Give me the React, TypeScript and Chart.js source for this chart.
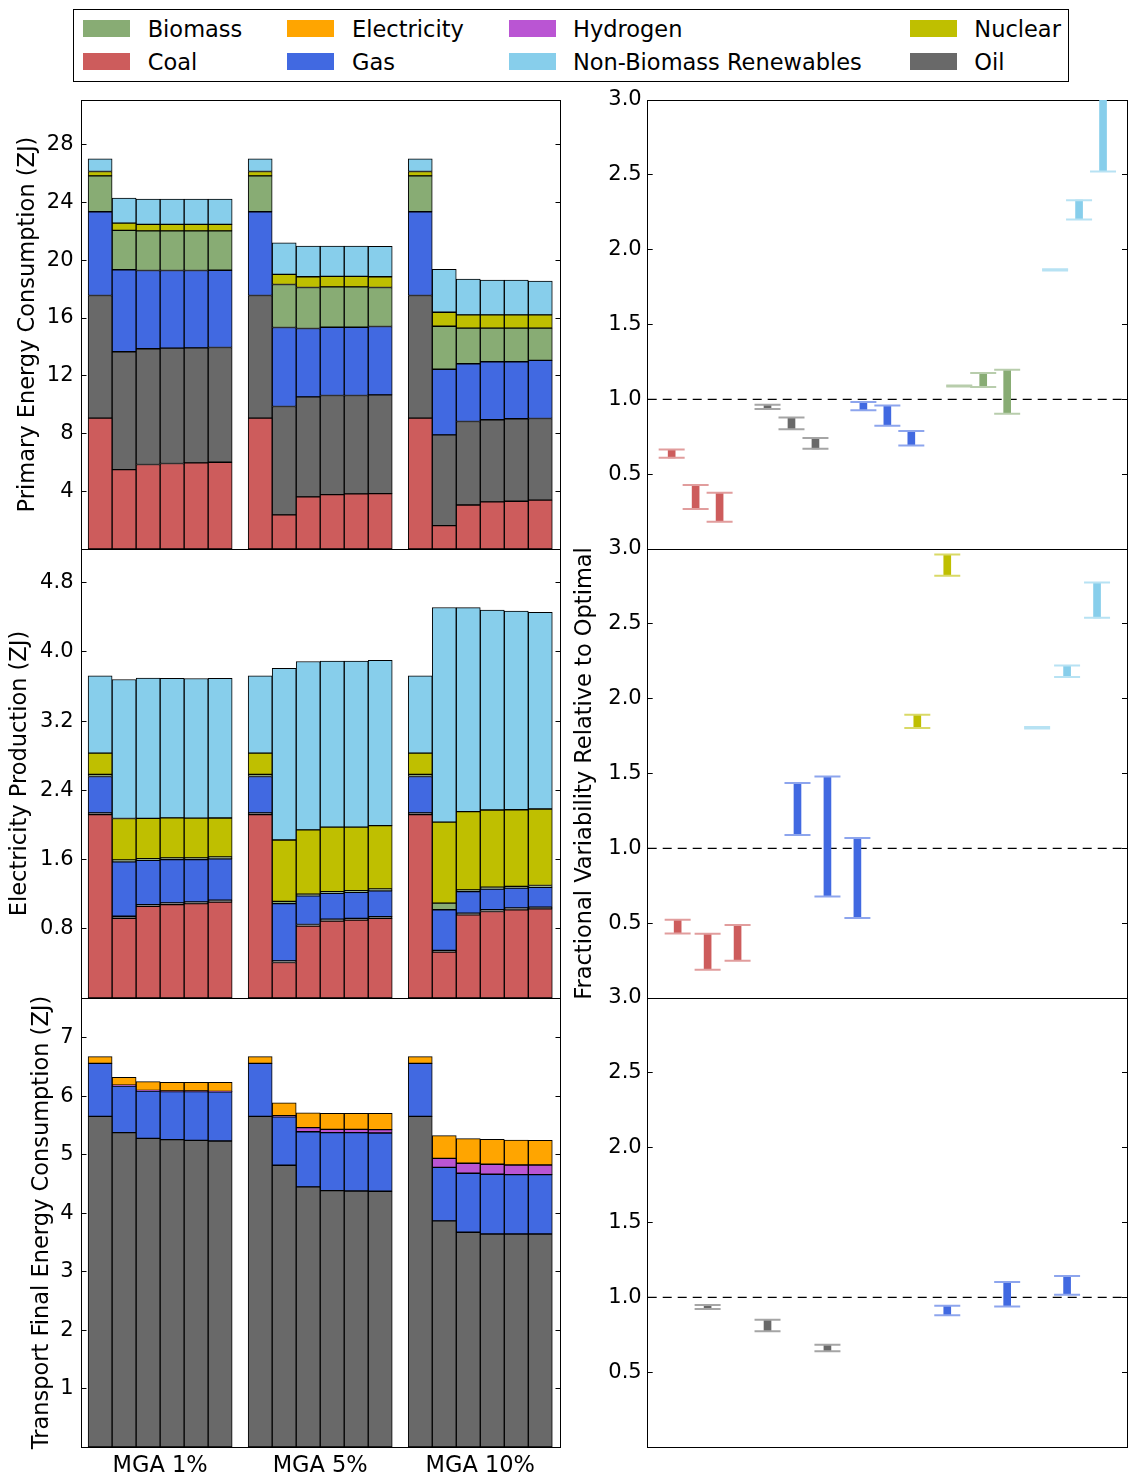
import React, { useEffect, useRef } from 'react';
import { Chart, registerables } from 'chart.js';

Chart.register(...registerables);

const FONT = 'DejaVu Sans';

// ---------- categories ----------
const MGA_LEVELS = ['MGA 1%', 'MGA 5%', 'MGA 10%'];
const BARS_PER_GROUP = 6;

const LEGEND_ITEMS = [
  'Biomass', 'Coal', 'Electricity', 'Gas',
  'Hydrogen', 'Non-Biomass Renewables', 'Nuclear', 'Oil',
];

const COLORS: Record<string, string> = {
  Biomass: '#88ac74',
  Coal: '#cd5c5c',
  Electricity: '#ffa500',
  Gas: '#4169e1',
  Hydrogen: '#ba55d3',
  'Non-Biomass Renewables': '#87ceeb',
  Nuclear: '#bfbf00',
  Oil: '#696969',
};

// ---------- Primary energy consumption (ZJ), 3 groups x 6 bars ----------
const primaryCoal = [9.06, 5.50, 5.85, 5.92, 5.97, 6.01, 9.06, 2.36, 3.61, 3.77, 3.82, 3.84, 9.06, 1.62, 3.05, 3.26, 3.31, 3.38];
const primaryOil = [8.50, 8.16, 8.02, 7.99, 7.96, 7.95, 8.50, 7.51, 6.93, 6.86, 6.81, 6.84, 8.50, 6.29, 5.78, 5.69, 5.71, 5.66];
const primaryGas = [5.80, 5.68, 5.42, 5.38, 5.36, 5.35, 5.80, 5.47, 4.73, 4.73, 4.73, 4.73, 5.80, 4.54, 4.00, 4.02, 3.95, 4.02];
const primaryBiomass = [2.49, 2.73, 2.75, 2.75, 2.75, 2.73, 2.49, 2.98, 2.84, 2.80, 2.80, 2.70, 2.49, 2.98, 2.47, 2.33, 2.33, 2.24];
const primaryNuclear = [0.30, 0.50, 0.44, 0.44, 0.44, 0.44, 0.30, 0.70, 0.75, 0.72, 0.72, 0.75, 0.30, 0.97, 0.92, 0.92, 0.92, 0.92];
const primaryRenew = [0.88, 1.73, 1.75, 1.75, 1.75, 1.75, 0.88, 2.19, 2.12, 2.10, 2.10, 2.10, 0.88, 2.98, 2.47, 2.40, 2.40, 2.33];
const primaryTicks = [4, 8, 12, 16, 20, 24, 28];
const primaryMax = 31.1;

// ---------- Electricity production (ZJ) ----------
const elecCoal = [2.12, 0.92, 1.06, 1.08, 1.09, 1.11, 2.12, 0.41, 0.83, 0.89, 0.90, 0.92, 2.12, 0.53, 0.96, 1.00, 1.02, 1.03];
const elecOil = [0.02, 0.025, 0.02, 0.02, 0.02, 0.02, 0.02, 0.02, 0.02, 0.02, 0.02, 0.02, 0.02, 0.02, 0.02, 0.02, 0.02, 0.02];
const elecGas = [0.42, 0.63, 0.51, 0.50, 0.49, 0.48, 0.42, 0.66, 0.33, 0.30, 0.30, 0.30, 0.42, 0.47, 0.25, 0.24, 0.23, 0.23];
const elecBiomass = [0.025, 0.02, 0.02, 0.02, 0.02, 0.02, 0.025, 0.027, 0.02, 0.02, 0.02, 0.02, 0.025, 0.077, 0.02, 0.02, 0.02, 0.02];
const elecNuclear = [0.245, 0.48, 0.466, 0.462, 0.459, 0.451, 0.245, 0.709, 0.743, 0.745, 0.736, 0.732, 0.245, 0.936, 0.905, 0.893, 0.886, 0.885];
const elecRenew = [0.894, 1.607, 1.622, 1.614, 1.614, 1.614, 0.894, 1.984, 1.947, 1.919, 1.919, 1.912, 0.894, 2.481, 2.358, 2.312, 2.297, 2.274];
const elecTicks = [0.8, 1.6, 2.4, 3.2, 4.0, 4.8];
const elecMax = 5.19;

// ---------- Transport final energy consumption (ZJ) ----------
const transOil = [5.656, 5.376, 5.280, 5.257, 5.246, 5.234, 5.656, 4.819, 4.448, 4.385, 4.379, 4.374, 5.656, 3.867, 3.673, 3.644, 3.644, 3.644];
const transGas = [0.906, 0.798, 0.81, 0.822, 0.833, 0.839, 0.906, 0.828, 0.945, 0.991, 0.997, 0.997, 0.906, 0.917, 1.009, 1.021, 1.015, 1.015];
const transHydrogen = [0, 0.015, 0.01, 0.01, 0.01, 0.01, 0, 0.02, 0.069, 0.058, 0.058, 0.057, 0, 0.154, 0.171, 0.171, 0.165, 0.165];
const transElectricity = [0.114, 0.134, 0.15, 0.149, 0.149, 0.155, 0.114, 0.22, 0.256, 0.273, 0.273, 0.279, 0.114, 0.387, 0.421, 0.427, 0.427, 0.422];
const transTicks = [1, 2, 3, 4, 5, 6, 7];
const transMax = 7.68;

// ---------- Fractional variability relative to optimal (low / high per MGA level) ----------
const varTicks = [0.5, 1.0, 1.5, 2.0, 2.5, 3.0];

const varPrimaryCoalLow = [0.609, 0.267, 0.182];
const varPrimaryCoalHigh = [0.665, 0.427, 0.376];
const varPrimaryOilLow = [0.936, 0.80, 0.669];
const varPrimaryOilHigh = [0.964, 0.878, 0.742];
const varPrimaryGasLow = [0.927, 0.824, 0.691];
const varPrimaryGasHigh = [0.982, 0.958, 0.789];
const varPrimaryBiomassLow = [1.085, 1.082, 0.904];
const varPrimaryBiomassHigh = [1.093, 1.176, 1.198];
const varPrimaryRenewLow = [1.860, 2.202, 2.522];
const varPrimaryRenewHigh = [1.869, 2.331, 3.10];

const varElecCoalLow = [0.431, 0.189, 0.249];
const varElecCoalHigh = [0.522, 0.429, 0.487];
const varElecGasLow = [1.089, 0.678, 0.535];
const varElecGasHigh = [1.436, 1.480, 1.069];
const varElecNuclearLow = [1.804, 2.822, null];
const varElecNuclearHigh = [1.893, 2.964, null];
const varElecRenewLow = [1.80, 2.144, 2.54];
const varElecRenewHigh = [1.811, 2.222, 2.776];

const varTransOilLow = [0.922, 0.773, 0.64];
const varTransOilHigh = [0.949, 0.851, 0.684];
const varTransGasLow = [0.88, 0.938, 1.018];
const varTransGasHigh = [0.944, 1.102, 1.142];

// ---------- helpers ----------
const GROUP_STEP = BARS_PER_GROUP + 2 / 3;
const LEFT_X_MIN = -0.775;
const LEFT_X_MAX = 19.175;
const barX = (k: number) => Math.floor(k / BARS_PER_GROUP) * GROUP_STEP + (k % BARS_PER_GROUP);
const groupCenter = (g: number) => g * GROUP_STEP + (BARS_PER_GROUP - 1) / 2;

function lighten(hex: string, t: number) {
  const n = parseInt(hex.slice(1), 16);
  const r = (n >> 16) & 255, g = (n >> 8) & 255, b = n & 255;
  const m = (c: number) => Math.round(c + (255 - c) * t);
  return `rgb(${m(r)},${m(g)},${m(b)})`;
}

const BLACK = '#000';

function yAxisLeft(max: number, ticks: number[], fmt: (v: number) => string, width: number, tickPad: number, title?: string, titlePad?: number) {
  return {
    type: 'linear',
    position: 'left',
    min: 0,
    max,
    stacked: true,
    offset: false,
    afterBuildTicks: (s: any) => { s.ticks = ticks.map((v) => ({ value: v })); },
    afterFit: (s: any) => { s.width = width; s.paddingTop = 0; s.paddingBottom = 0; },
    ticks: { callback: (v: any) => fmt(Number(v)), font: { family: FONT, size: 21 }, color: BLACK, padding: tickPad, autoSkip: false },
    grid: { display: true, drawOnChartArea: false, drawTicks: true, tickLength: -5, tickColor: BLACK, tickWidth: 1, color: BLACK, offset: false },
    border: { display: true, color: BLACK, width: 1 },
    title: title
      ? { display: true, text: title, font: { family: FONT, size: 22.5 }, color: BLACK, padding: { top: titlePad ?? 0, bottom: 0 } }
      : { display: false },
  };
}

function yAxisRight(max: number, ticks: number[]) {
  return {
    type: 'linear',
    position: 'right',
    min: 0,
    max,
    offset: false,
    afterBuildTicks: (s: any) => { s.ticks = ticks.map((v) => ({ value: v })); },
    afterFit: (s: any) => { s.width = 0; s.paddingTop = 0; s.paddingBottom = 0; },
    ticks: { display: false },
    grid: { display: true, drawOnChartArea: false, drawTicks: true, tickLength: -5, tickColor: BLACK, tickWidth: 1, color: BLACK, offset: false },
    border: { display: true, color: BLACK, width: 1 },
  };
}

function xAxisTop(min: number, max: number) {
  return {
    type: 'linear',
    position: 'top',
    min,
    max,
    offset: false,
    afterFit: (s: any) => { s.height = 0; s.paddingLeft = 0; s.paddingRight = 0; },
    ticks: { display: false },
    grid: { display: false, offset: false },
    border: { display: true, color: BLACK, width: 1 },
  };
}

function leftPanelConfig(
  series: [string, (number | null)[]][],
  yMax: number,
  yTicks: number[],
  fmt: (v: number) => string,
  title: string,
  titlePad: number,
  showLabels: boolean,
  xHeight: number,
  padding: any,
) {
  return {
    type: 'bar',
    data: {
      datasets: series.map(([name, vals]) => ({
        label: name,
        data: vals.map((v, k) => ({ x: barX(k), y: v })),
        backgroundColor: COLORS[name],
        borderColor: BLACK,
        borderWidth: 1,
        borderSkipped: false,
        categoryPercentage: 1,
        barPercentage: 1,
      })),
    },
    options: {
      responsive: false,
      animation: false,
      events: [],
      layout: { padding, autoPadding: false },
      plugins: { legend: { display: false }, tooltip: { enabled: false } },
      scales: {
        x: {
          type: 'linear',
          position: 'bottom',
          min: LEFT_X_MIN,
          max: LEFT_X_MAX,
          stacked: true,
          offset: false,
          afterBuildTicks: (s: any) => { s.ticks = MGA_LEVELS.map((_, g) => ({ value: groupCenter(g) })); },
          afterFit: (s: any) => { s.height = xHeight; s.paddingLeft = 0; s.paddingRight = 0; },
          ticks: {
            display: showLabels,
            callback: (_v: any, i: number) => MGA_LEVELS[i],
            font: { family: FONT, size: 22.5 },
            color: BLACK,
            padding: -2,
            maxRotation: 0,
            autoSkip: false,
          },
          grid: { display: false, offset: false },
          border: { display: true, color: BLACK, width: 1 },
        },
        x2: xAxisTop(LEFT_X_MIN, LEFT_X_MAX),
        y: yAxisLeft(yMax, yTicks, fmt, 81.5, 13, title, titlePad),
        y2: yAxisRight(yMax, yTicks),
      },
    },
  };
}

function rightPanelConfig(
  series: [string, (number | null)[], (number | null)[]][],
  xMax: number,
  padding: any,
  title?: string,
) {
  const X_MIN = -1;
  const slots = MGA_LEVELS.length + 1;
  const datasets: any[] = [];
  series.forEach(([name, low, high], s) => {
    const pts = MGA_LEVELS.map((_, j) => ({ j, lo: low[j], hi: high[j] })).filter((p) => p.lo != null && p.hi != null);
    datasets.push({
      type: 'bar',
      label: name,
      data: pts.map((p) => ({ x: s * slots + p.j, y: [p.lo, p.hi] })),
      backgroundColor: COLORS[name],
      borderWidth: 0,
      barThickness: 7,
      grouped: false,
      order: 1,
    });
    datasets.push({
      type: 'scatter',
      label: name + ' caps',
      data: pts.flatMap((p) => [{ x: s * slots + p.j, y: p.lo }, { x: s * slots + p.j, y: p.hi }]),
      pointStyle: 'line',
      pointRadius: 13,
      pointBorderWidth: 2,
      pointBorderColor: lighten(COLORS[name], 0.4),
      pointBackgroundColor: lighten(COLORS[name], 0.4),
      showLine: false,
      order: 0,
    });
  });
  datasets.push({
    type: 'line',
    label: 'optimal',
    data: [{ x: X_MIN, y: 1 }, { x: xMax, y: 1 }],
    borderColor: BLACK,
    borderWidth: 1.2,
    borderDash: [9, 6],
    pointRadius: 0,
    fill: false,
    order: 5,
  });
  return {
    type: 'bar',
    data: { datasets },
    options: {
      responsive: false,
      animation: false,
      events: [],
      layout: { padding, autoPadding: false },
      plugins: { legend: { display: false }, tooltip: { enabled: false } },
      scales: {
        x: {
          type: 'linear',
          position: 'bottom',
          min: X_MIN,
          max: xMax,
          offset: false,
          afterFit: (s: any) => { s.height = 0; s.paddingLeft = 0; s.paddingRight = 0; },
          ticks: { display: false },
          grid: { display: false, offset: false },
          border: { display: true, color: BLACK, width: 1 },
        },
        x2: xAxisTop(X_MIN, xMax),
        y: yAxisLeft(3, varTicks, (v) => v.toFixed(1), 77.7, 11, title, 1.5),
        y2: yAxisRight(3, varTicks),
      },
    },
  };
}

function ChartCanvas({ left, top, width, height, make }: { left: number; top: number; width: number; height: number; make: () => any }) {
  const ref = useRef<HTMLCanvasElement | null>(null);
  useEffect(() => {
    if (!ref.current) return;
    const chart = new Chart(ref.current, make());
    return () => chart.destroy();
  }, []);
  return (
    <canvas
      ref={ref}
      width={width}
      height={height}
      style={{ position: 'absolute', left, top, width, height, display: 'block' }}
    />
  );
}

function Legend() {
  const colX = [81.7, 286, 507.7, 909.3];
  const textX = [146.7, 351, 572, 973.3];
  const rowY = [27.7, 60.8];
  return (
    <div
      style={{
        position: 'absolute',
        left: 73,
        top: 9,
        width: 996,
        height: 73,
        border: '1px solid #000',
        boxSizing: 'border-box',
        background: '#fff',
      }}
    >
      {LEGEND_ITEMS.map((name, i) => {
        const c = Math.floor(i / 2);
        const r = i % 2;
        return (
          <React.Fragment key={name}>
            <div
              style={{
                position: 'absolute',
                left: colX[c] - 73,
                top: rowY[r] - 9 - 8.5,
                width: 47,
                height: 17,
                background: COLORS[name],
              }}
            />
            <div
              style={{
                position: 'absolute',
                left: textX[c] - 73,
                top: rowY[r] - 9 - 14,
                height: 28,
                lineHeight: '28px',
                fontFamily: FONT,
                fontSize: 22.5,
                color: '#000',
                whiteSpace: 'nowrap',
              }}
            >
              {name}
            </div>
          </React.Fragment>
        );
      })}
    </div>
  );
}

export default function App() {
  const fmtInt = (v: number) => String(Math.round(v));
  const fmt1 = (v: number) => v.toFixed(1);
  return (
    <div style={{ position: 'absolute', left: 0, top: 0, width: 1129, height: 1474, background: '#fff', overflow: 'hidden' }}>
      <Legend />
      {/* Left column */}
      <ChartCanvas
        left={0}
        top={88}
        width={566}
        height={465}
        make={() =>
          leftPanelConfig(
            [['Coal', primaryCoal], ['Oil', primaryOil], ['Gas', primaryGas], ['Biomass', primaryBiomass], ['Nuclear', primaryNuclear], ['Non-Biomass Renewables', primaryRenew]],
            primaryMax, primaryTicks, fmtInt, 'Primary Energy Consumption (ZJ)', 14.5, false, 0,
            { top: 12, bottom: 4, left: 0, right: 5.5 },
          )
        }
      />
      <ChartCanvas
        left={0}
        top={537}
        width={566}
        height={465}
        make={() =>
          leftPanelConfig(
            [['Coal', elecCoal], ['Oil', elecOil], ['Gas', elecGas], ['Biomass', elecBiomass], ['Nuclear', elecNuclear], ['Non-Biomass Renewables', elecRenew]],
            elecMax, elecTicks, fmt1, 'Electricity Production (ZJ)', 6.5, false, 0,
            { top: 12, bottom: 4, left: 0, right: 5.5 },
          )
        }
      />
      <ChartCanvas
        left={0}
        top={986}
        width={566}
        height={488}
        make={() =>
          leftPanelConfig(
            [['Oil', transOil], ['Gas', transGas], ['Hydrogen', transHydrogen], ['Electricity', transElectricity]],
            transMax, transTicks, fmtInt, 'Transport Final Energy Consumption (ZJ)', 28.5, true, 27,
            { top: 12, bottom: 0, left: 0, right: 5.5 },
          )
        }
      />
      {/* Right column */}
      <ChartCanvas
        left={570}
        top={85}
        width={559}
        height={467}
        make={() =>
          rightPanelConfig(
            [
              ['Coal', varPrimaryCoalLow, varPrimaryCoalHigh],
              ['Oil', varPrimaryOilLow, varPrimaryOilHigh],
              ['Gas', varPrimaryGasLow, varPrimaryGasHigh],
              ['Biomass', varPrimaryBiomassLow, varPrimaryBiomassHigh],
              ['Non-Biomass Renewables', varPrimaryRenewLow, varPrimaryRenewHigh],
            ],
            19,
            { top: 15, bottom: 3, left: 0, right: 2 },
          )
        }
      />
      <ChartCanvas
        left={570}
        top={530}
        width={559}
        height={485}
        make={() =>
          rightPanelConfig(
            [
              ['Coal', varElecCoalLow, varElecCoalHigh],
              ['Gas', varElecGasLow, varElecGasHigh],
              ['Nuclear', varElecNuclearLow, varElecNuclearHigh],
              ['Non-Biomass Renewables', varElecRenewLow, varElecRenewHigh],
            ],
            15,
            { top: 19, bottom: 17, left: 0, right: 2 },
            'Fractional Variability Relative to Optimal',
          )
        }
      />
      <ChartCanvas
        left={570}
        top={985}
        width={559}
        height={489}
        make={() =>
          rightPanelConfig(
            [
              ['Oil', varTransOilLow, varTransOilHigh],
              ['Gas', varTransGasLow, varTransGasHigh],
            ],
            7,
            { top: 13, bottom: 27, left: 0, right: 2 },
          )
        }
      />
    </div>
  );
}
